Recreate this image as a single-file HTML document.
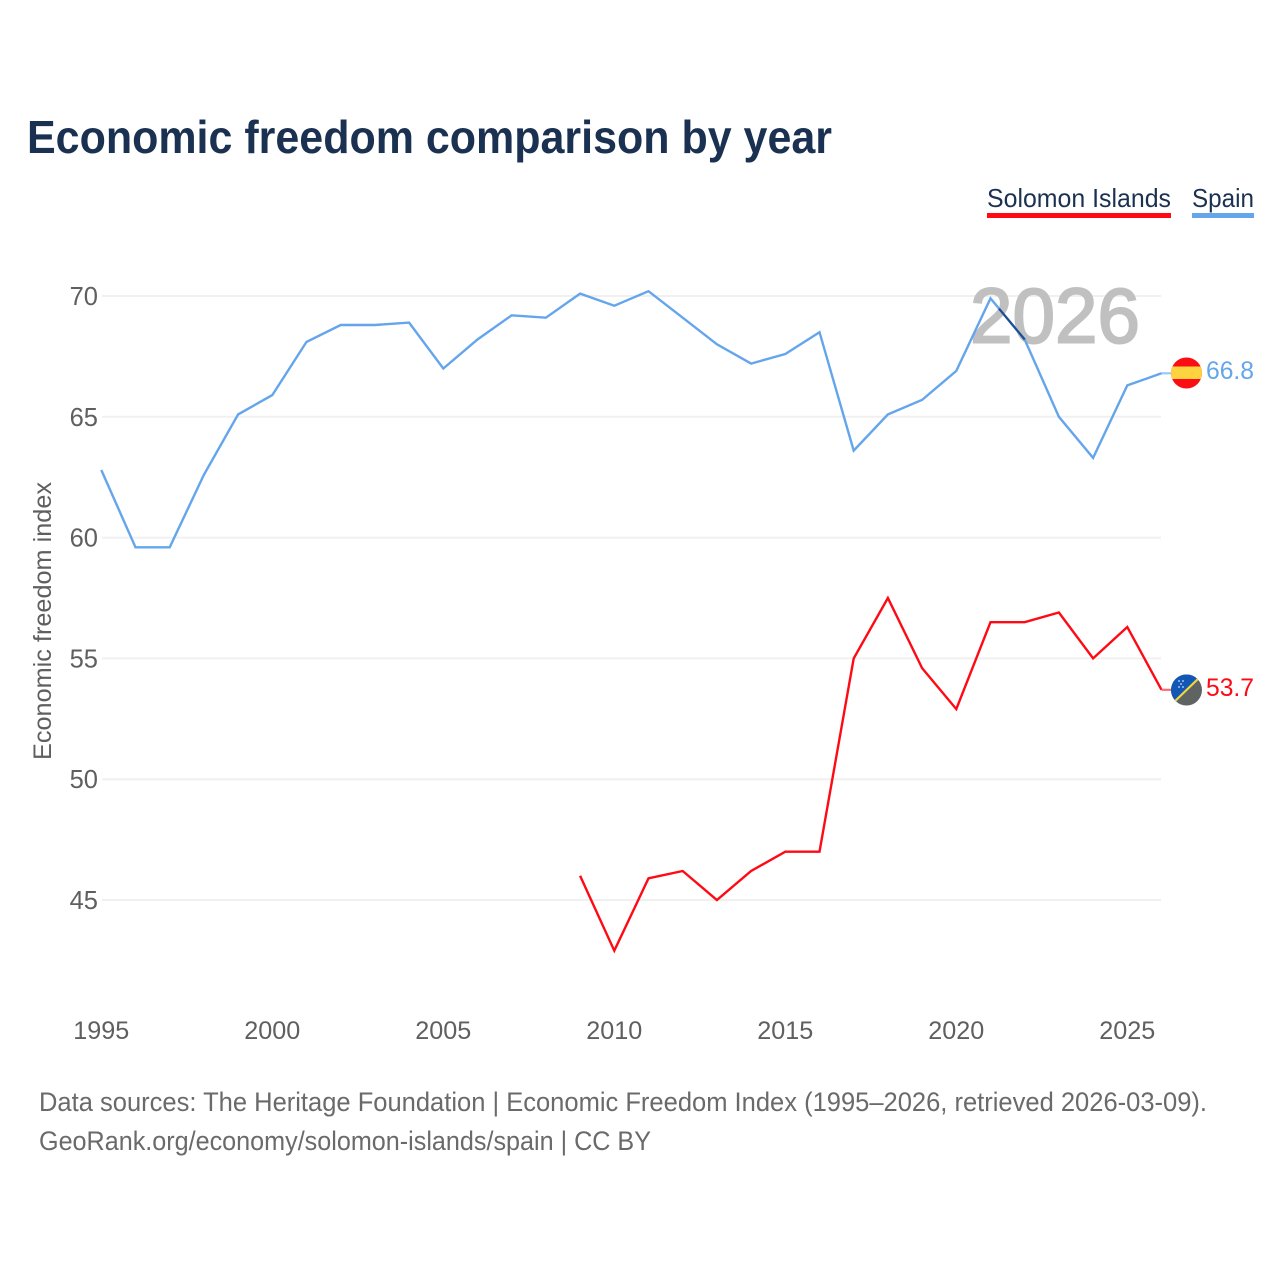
<!DOCTYPE html>
<html lang="en">
<head>
<meta charset="utf-8">
<title>Economic freedom comparison by year</title>
<style>
html,body{margin:0;padding:0;background:#fff;width:1280px;height:1280px;overflow:hidden}
svg{display:block;font-family:"Liberation Sans",sans-serif}
</style>
</head>
<body>
<svg id="chart" width="1280" height="1280" viewBox="0 0 1280 1280" xmlns="http://www.w3.org/2000/svg">
  <defs>
    <clipPath id="clip-spain"><circle cx="1186.5" cy="373" r="15.5"/></clipPath>
    <clipPath id="clip-solomon"><circle cx="1186.5" cy="690" r="15.5"/></clipPath>
  </defs>
  <rect x="0" y="0" width="1280" height="1280" fill="#fff"/>
  <text x="27" y="153" font-size="46" font-weight="700" fill="#1b3151" textLength="805" lengthAdjust="spacingAndGlyphs">Economic freedom comparison by year</text>

  <g>
    <text x="987" y="207" font-size="26" fill="#1b3151" textLength="184" lengthAdjust="spacingAndGlyphs">Solomon Islands</text>
    <rect x="987" y="213" width="184" height="5" fill="#ff0a14"/>
  </g>
  <g>
    <text x="1192" y="207" font-size="26" fill="#1b3151" textLength="62" lengthAdjust="spacingAndGlyphs">Spain</text>
    <rect x="1192" y="213" width="62" height="5" fill="#64a5ec"/>
  </g>

  <g id="grid"></g>
  <g id="yticks"></g>
  <g id="xticks"></g>
  <text transform="translate(51,621) rotate(-90)" text-anchor="middle" font-size="25" fill="#5f5f5f" textLength="278" lengthAdjust="spacingAndGlyphs">Economic freedom index</text>

  <text x="970" y="342.5" font-size="78" font-weight="400" fill="#c0c0c0" stroke="#c0c0c0" stroke-width="2" textLength="170" lengthAdjust="spacingAndGlyphs">2026</text>

  <g id="series"></g>

  <g clip-path="url(#clip-spain)">
    <rect x="1170" y="356" width="34" height="34" fill="#fb0d14"/>
    <rect x="1170" y="366.5" width="34" height="12.5" fill="#ffd23f"/>
  </g>
  <g clip-path="url(#clip-solomon)">
    <rect x="1170" y="673" width="34" height="34" fill="#5f6462"/>
    <polygon points="1170,674 1203,674 1170,707" fill="#1257b4"/>
    <line x1="1172" y1="704" x2="1201" y2="676" stroke="#f5d63d" stroke-width="2.2"/>
    <circle cx="1179" cy="681" r="1" fill="#9fc0ea"/>
    <circle cx="1183" cy="681" r="1" fill="#9fc0ea"/>
    <circle cx="1181" cy="684" r="1" fill="#9fc0ea"/>
    <circle cx="1179" cy="687" r="1" fill="#9fc0ea"/>
    <circle cx="1183" cy="687" r="1" fill="#9fc0ea"/>
  </g>
  <text id="end-spain" x="1206" y="379" font-size="25" fill="#64a5ec" textLength="48" lengthAdjust="spacingAndGlyphs"></text>
  <text id="end-solomon" x="1206" y="696" font-size="25" fill="#ff0a14" textLength="48" lengthAdjust="spacingAndGlyphs"></text>

  <text x="39" y="1111" font-size="26.5" fill="#6a6a6a" textLength="1168" lengthAdjust="spacingAndGlyphs">Data sources: The Heritage Foundation | Economic Freedom Index (1995–2026, retrieved 2026-03-09).</text>
  <text x="39" y="1150" font-size="26.5" fill="#6a6a6a" textLength="612" lengthAdjust="spacingAndGlyphs">GeoRank.org/economy/solomon-islands/spain | CC BY</text>
</svg>
<script>
var years = [1995,1996,1997,1998,1999,2000,2001,2002,2003,2004,2005,2006,2007,2008,2009,2010,2011,2012,2013,2014,2015,2016,2017,2018,2019,2020,2021,2022,2023,2024,2025,2026];
var spainValues = [62.8,59.6,59.6,62.6,65.1,65.9,68.1,68.8,68.8,68.9,67.0,68.2,69.2,69.1,70.1,69.6,70.2,69.1,68.0,67.2,67.6,68.5,63.6,65.1,65.7,66.9,69.9,68.2,65.0,63.3,66.3,66.8];
var solomonYears = [2009,2010,2011,2012,2013,2014,2015,2016,2017,2018,2019,2020,2021,2022,2023,2024,2025,2026];
var solomonValues = [46.0,42.9,45.9,46.2,45.0,46.2,47.0,47.0,55.0,57.5,54.6,52.9,56.5,56.5,56.9,55.0,56.3,53.7];
var yTicks = [70,65,60,55,50,45];
var xTicks = [1995,2000,2005,2010,2015,2020,2025];

var NS = 'http://www.w3.org/2000/svg';
function xScale(year){ return 101.3 + (year - 1995) * 34.2; }
function yScale(value){ return 296 + (70 - value) * 24.16; }
function make(tag, parent, attrs){
  var el = document.createElementNS(NS, tag);
  for (var k in attrs) el.setAttribute(k, attrs[k]);
  parent.appendChild(el);
  return el;
}
var grid = document.getElementById('grid');
var yG = document.getElementById('yticks');
var xG = document.getElementById('xticks');
var seriesG = document.getElementById('series');

yTicks.forEach(function(t){
  var line = make('line', grid, {x1:102, x2:1161, y1:yScale(t), y2:yScale(t), stroke:'#f0f0f0', 'stroke-width':2});
  
  
  var label = make('text', yG, {x:98, y:yScale(t)+9, 'text-anchor':'end', 'font-size':25.5, fill:'#5f5f5f'});
  
  
  label.textContent = t;
});
xTicks.forEach(function(t){
  var label = make('text', xG, {x:xScale(t), y:1039, 'text-anchor':'middle', 'font-size':25, fill:'#5f5f5f', textLength:56, lengthAdjust:'spacingAndGlyphs'});
  
  
  label.textContent = t;
});

function pts(xs, vs){
  return vs.map(function(v,i){ return xScale(xs[i]).toFixed(1) + ',' + yScale(v).toFixed(1); }).join(' ');
}
var spainLine = make('polyline', seriesG, {points:pts(years, spainValues), fill:'none', stroke:'#64a5ec', 'stroke-width':2.4, 'stroke-linejoin':'miter'});


var solomonLine = make('polyline', seriesG, {points:pts(solomonYears, solomonValues), fill:'none', stroke:'#ff0a14', 'stroke-width':2.4, 'stroke-linejoin':'miter'});



/* darker overlap where the 2021-2022 segment crosses the watermark */
var iA = years.indexOf(2021), iB = years.indexOf(2022);
var ax = xScale(years[iA]), ay = yScale(spainValues[iA]), bx = xScale(years[iB]), by = yScale(spainValues[iB]);
var overlap = make('line', seriesG, {x1:ax+(bx-ax)*0.25, y1:ay+(by-ay)*0.25, x2:bx, y2:by, stroke:'#1d4f92', 'stroke-width':2.2});



var lastS = spainValues[spainValues.length-1], lastR = solomonValues[solomonValues.length-1];
var c1 = make('line', seriesG, {x1:xScale(2026), x2:1171, y1:yScale(lastS), y2:yScale(lastS), stroke:'#9cc6f3', 'stroke-width':2.2});


var c2 = make('line', seriesG, {x1:xScale(2026), x2:1171, y1:yScale(lastR), y2:yScale(lastR), stroke:'#ff6a70', 'stroke-width':2.2});



document.getElementById('end-spain').textContent = lastS.toFixed(1);
document.getElementById('end-solomon').textContent = lastR.toFixed(1);
</script>
</body>
</html>
